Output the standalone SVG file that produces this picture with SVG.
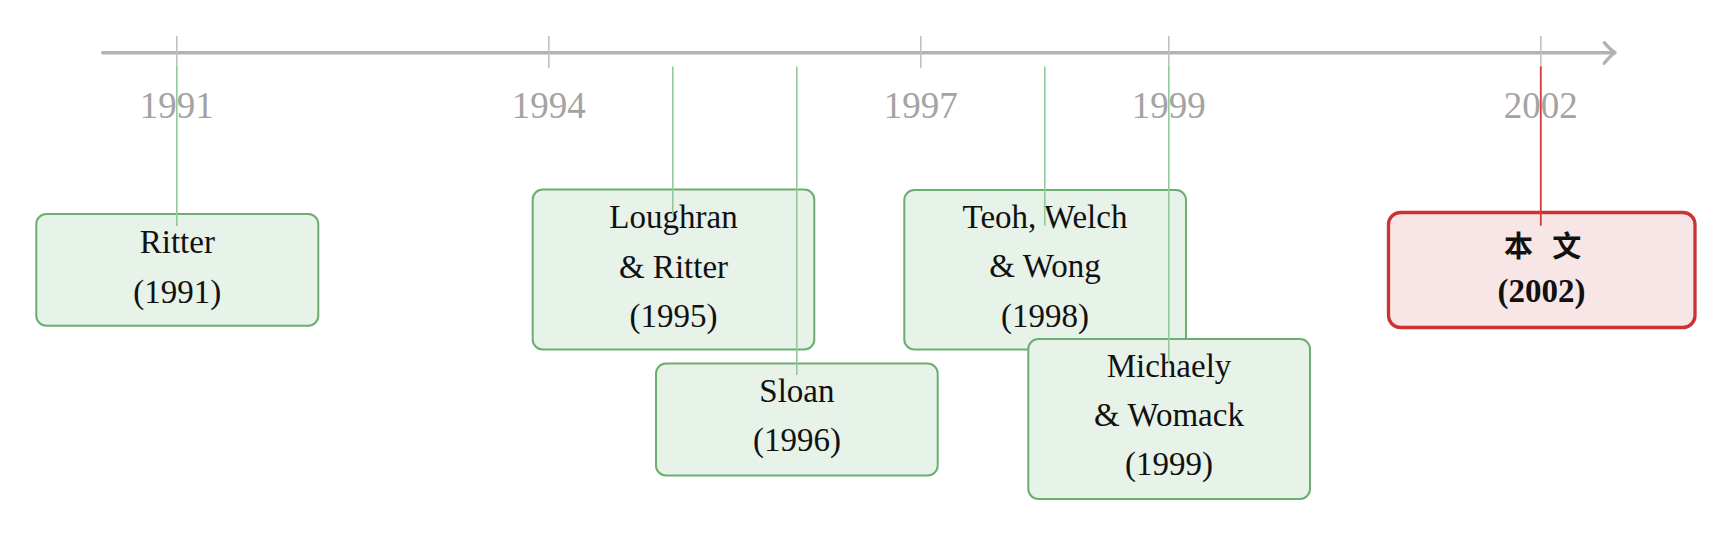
<svg xmlns="http://www.w3.org/2000/svg" width="1731" height="536" viewBox="0 0 1731 536">
  <style>
    .axis { stroke: #b3b3b3; stroke-width: 3.4; fill: none; stroke-linecap: round; stroke-linejoin: round; }
    .tick { stroke: #c0c0c0; stroke-width: 1.6; }
    .year { font-family: "Liberation Serif", "DejaVu Serif", serif; font-size: 37px; fill: #a3a3a3; text-anchor: middle; }
    .gbox { fill: #e7f2e8; stroke: #6aaf70; stroke-width: 2; }
    .rbox { fill: #f8e5e6; stroke: #cc3333; stroke-width: 3.3; }
    .txt { font-family: "Liberation Serif", "DejaVu Serif", serif; font-size: 33px; fill: #111; text-anchor: middle; }
    .bold { font-weight: bold; }
    .cjk { font-family: "Noto Sans CJK SC", "Noto Sans CJK JP", sans-serif; font-size: 29px; font-weight: bold; fill: #111; text-anchor: middle; }
    .gcon { stroke: #92c99d; stroke-width: 1.6; }
    .rcon { stroke: #d03c3c; stroke-width: 1.8; }
  </style>

  <g id="axis">
    <line class="axis" x1="102.7" y1="52.7" x2="1614" y2="52.7"/>
    <path class="axis" d="M1604.3,42.7 Q1610,49.5 1615,52.7 Q1610,56 1604.3,63.3"/>
    <line class="tick" x1="176.8" y1="36" x2="176.8" y2="68.3"/>
    <line class="tick" x1="548.8" y1="36" x2="548.8" y2="68.3"/>
    <line class="tick" x1="920.8" y1="36" x2="920.8" y2="68.3"/>
    <line class="tick" x1="1168.8" y1="36" x2="1168.8" y2="68.3"/>
    <line class="tick" x1="1540.8" y1="36" x2="1540.8" y2="68.3"/>
    <text class="year" x="176.8" y="118.3">1991</text>
    <text class="year" x="548.8" y="118.3">1994</text>
    <text class="year" x="920.8" y="118.3">1997</text>
    <text class="year" x="1168.8" y="118.3">1999</text>
    <text class="year" x="1540.8" y="118.3">2002</text>
  </g>

  <g id="node-ritter">
    <rect class="gbox" x="36.3" y="214" width="282" height="111.7" rx="10" ry="10"/>
    <text class="txt" x="177.3" y="252.7">Ritter</text>
    <text class="txt" x="177.3" y="302.5">(1991)</text>
  </g>

  <g id="node-loughran">
    <rect class="gbox" x="532.7" y="189.5" width="281.6" height="160" rx="10" ry="10"/>
    <text class="txt" x="673.5" y="228.3">Loughran</text>
    <text class="txt" x="673.5" y="277.5">&amp; Ritter</text>
    <text class="txt" x="673.5" y="326.7">(1995)</text>
  </g>

  <g id="node-sloan">
    <rect class="gbox" x="656" y="363.5" width="281.7" height="112" rx="10" ry="10"/>
    <text class="txt" x="796.9" y="402.3">Sloan</text>
    <text class="txt" x="796.9" y="451">(1996)</text>
  </g>

  <g id="node-teoh">
    <rect class="gbox" x="904.3" y="190" width="281.7" height="159.5" rx="10" ry="10"/>
    <text class="txt" x="1045" y="227.7">Teoh, Welch</text>
    <text class="txt" x="1045" y="277.3">&amp; Wong</text>
    <text class="txt" x="1045" y="326.7">(1998)</text>
  </g>

  <g id="node-michaely">
    <rect class="gbox" x="1028.3" y="339" width="281.7" height="160" rx="10" ry="10"/>
    <text class="txt" x="1169" y="376.7">Michaely</text>
    <text class="txt" x="1169" y="425.7">&amp; Womack</text>
    <text class="txt" x="1169" y="474.5">(1999)</text>
  </g>

  <g id="node-benwen">
    <rect class="rbox" x="1388.5" y="212.5" width="306.5" height="115" rx="12" ry="12"/>
    <text class="cjk" y="257"><tspan x="1518.5">本</tspan><tspan x="1563.5"> 文</tspan></text>
    <text class="txt bold" x="1541.5" y="301.7">(2002)</text>
  </g>

  <g id="connectors">
    <line class="gcon" x1="176.8" y1="66.5" x2="176.8" y2="226"/>
    <line class="gcon" x1="672.8" y1="66.5" x2="672.8" y2="215"/>
    <line class="gcon" x1="796.8" y1="66.5" x2="796.8" y2="375"/>
    <line class="gcon" x1="1044.8" y1="66.5" x2="1044.8" y2="225.7"/>
    <line class="gcon" x1="1168.8" y1="66.5" x2="1168.8" y2="363.3"/>
    <line class="rcon" x1="1540.8" y1="66.5" x2="1540.8" y2="225.7"/>
  </g>
</svg>
